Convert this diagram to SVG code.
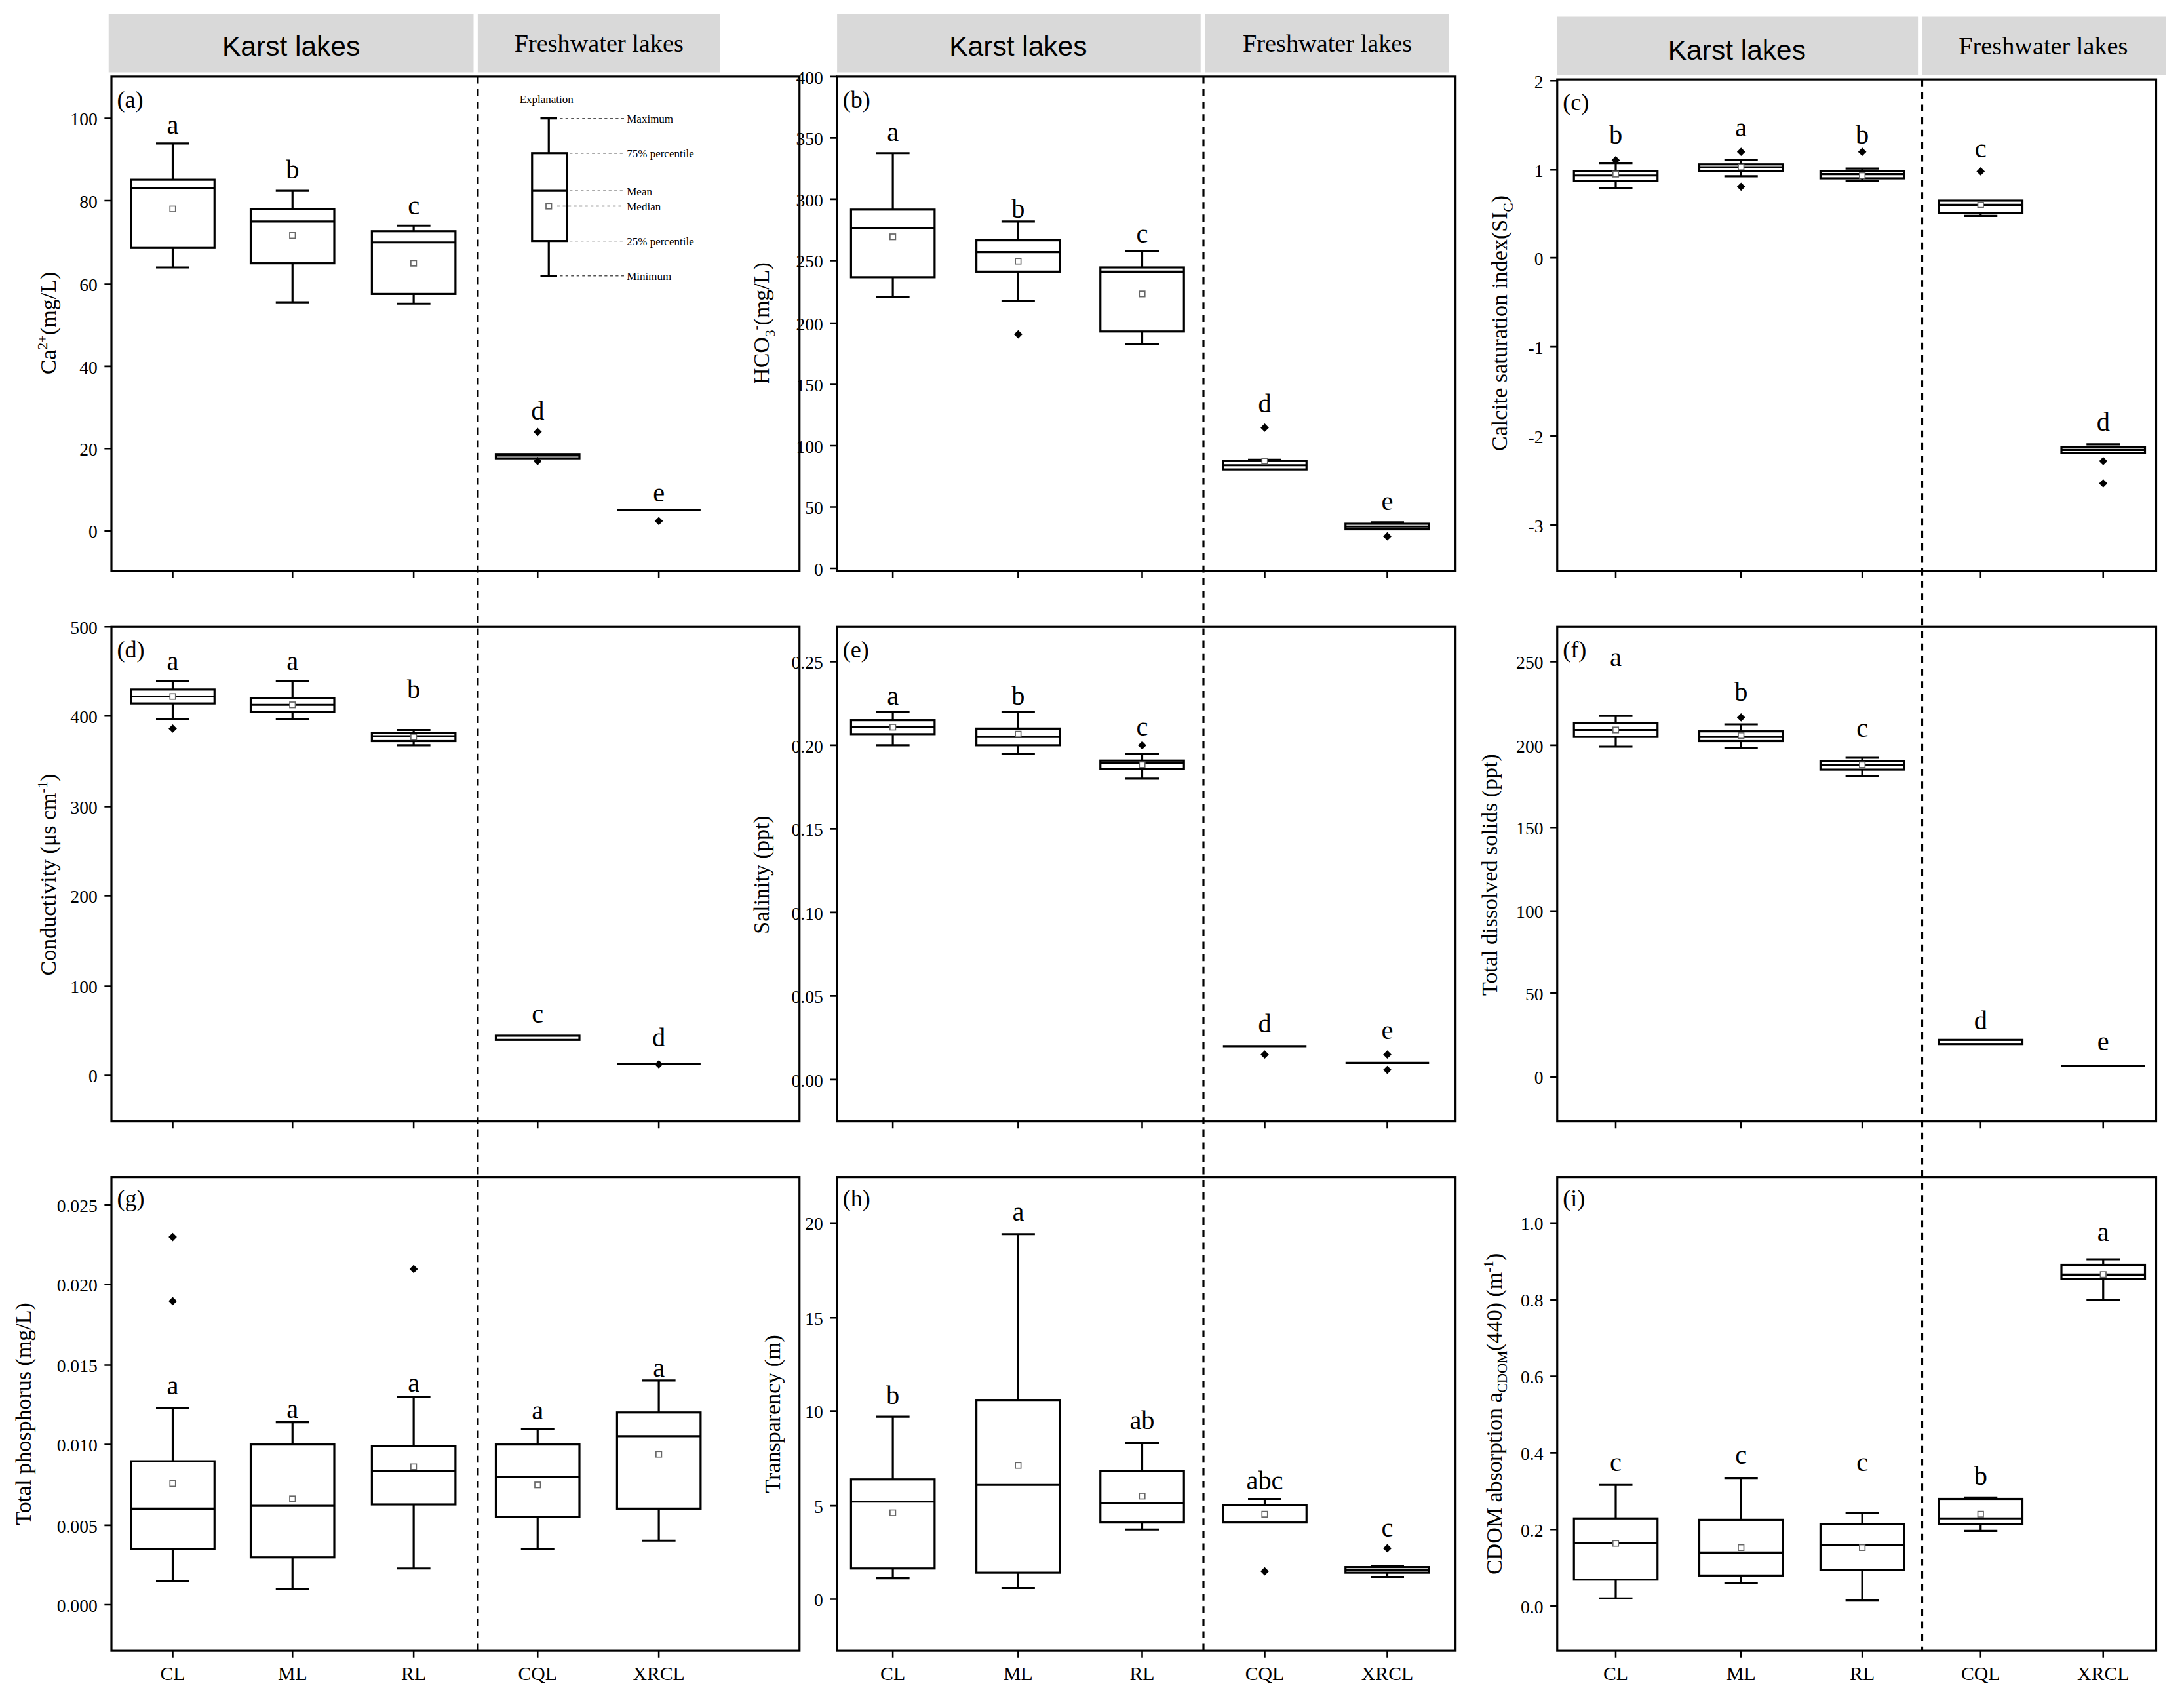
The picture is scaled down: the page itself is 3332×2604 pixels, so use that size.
<svg xmlns="http://www.w3.org/2000/svg" width="3332" height="2604" viewBox="0 0 3332 2604">
<style>
.ax{fill:none;stroke:#000;stroke-width:1.5}
.b{fill:none;stroke:#000;stroke-width:1.5}
.m{fill:#fff;stroke:#666;stroke-width:0.8}
.hd{fill:#d9d9d9}
.ht{font-family:"Liberation Sans",Arial,sans-serif;font-size:20px;text-anchor:middle}
.ht2{font-family:"Liberation Serif",serif;font-size:18px;text-anchor:middle}
.t{font-family:"Liberation Serif",serif;font-size:13px;text-anchor:end}
.xl{font-family:"Liberation Serif",serif;font-size:14px;text-anchor:middle}
.lt{font-family:"Liberation Serif",serif;font-size:19px;text-anchor:middle}
.pl{font-family:"Liberation Serif",serif;font-size:17px}
.yl{font-family:"Liberation Serif",serif;font-size:16px;text-anchor:middle}
.ex{font-family:"Liberation Serif",serif;font-size:8px}
.dl{stroke:#000;stroke-width:1.5;stroke-dasharray:5,4}
.dot{stroke:#555;stroke-width:0.6;stroke-dasharray:2,2}
</style>
<defs><path id="o" d="M0,-3L3,0 0,3 -3,0Z" fill="#000"/></defs>
<rect width="3332" height="2604" fill="#fff"/>
<g transform="scale(2.125)">
<g id="headers">
<rect class="hd" x="78" y="10" width="262" height="42"/><text class="ht" x="209" y="40">Karst lakes</text>
<rect class="hd" x="343" y="10" width="174" height="42"/><text class="ht2" x="430" y="37">Freshwater lakes</text>
<rect class="hd" x="601" y="10" width="261" height="42"/><text class="ht" x="731" y="40">Karst lakes</text>
<rect class="hd" x="865" y="10" width="175" height="42"/><text class="ht2" x="953" y="37">Freshwater lakes</text>
<rect class="hd" x="1118" y="12" width="259" height="42"/><text class="ht" x="1247" y="43">Karst lakes</text>
<rect class="hd" x="1380" y="12" width="175" height="42"/><text class="ht2" x="1467" y="39">Freshwater lakes</text>
</g>
<g id="axes">
<rect class="ax" x="80" y="55" width="494" height="355"/>
<rect class="ax" x="601" y="55" width="444" height="355"/>
<rect class="ax" x="1118" y="57" width="430" height="353"/>
<rect class="ax" x="80" y="450" width="494" height="355"/>
<rect class="ax" x="601" y="450" width="444" height="355"/>
<rect class="ax" x="1118" y="450" width="430" height="355"/>
<rect class="ax" x="80" y="845" width="494" height="340"/>
<rect class="ax" x="601" y="845" width="444" height="340"/>
<rect class="ax" x="1118" y="845" width="430" height="340"/>
<text class="pl" x="84" y="77">(a)</text><text class="pl" x="605" y="77">(b)</text><text class="pl" x="1122" y="79">(c)</text>
<text class="pl" x="84" y="472">(d)</text><text class="pl" x="605" y="472">(e)</text><text class="pl" x="1122" y="472">(f)</text>
<text class="pl" x="84" y="866">(g)</text><text class="pl" x="605" y="866">(h)</text><text class="pl" x="1122" y="866">(i)</text>
<!-- y ticks -->
<g stroke="#000" stroke-width="1.2">
<path d="M80,381h-5M80,322h-5M80,263h-5M80,204h-5M80,144h-5M80,85h-5"/>
<path d="M601,408h-5M601,364h-5M601,320h-5M601,276h-5M601,232h-5M601,187h-5M601,143h-5M601,99h-5M601,55h-5"/>
<path d="M1118,58h-5M1118,122h-5M1118,185h-5M1118,249h-5M1118,313h-5M1118,377h-5"/>
<path d="M80,772h-5M80,708h-5M80,643h-5M80,579h-5M80,514h-5M80,450h-5"/>
<path d="M601,775h-5M601,715h-5M601,655h-5M601,595h-5M601,535h-5M601,475h-5"/>
<path d="M1118,773h-5M1118,713h-5M1118,654h-5M1118,594h-5M1118,535h-5M1118,475h-5"/>
<path d="M80,1152h-5M80,1095h-5M80,1037h-5M80,980h-5M80,922h-5M80,865h-5"/>
<path d="M601,1148h-5M601,1081h-5M601,1013h-5M601,946h-5M601,878h-5"/>
<path d="M1118,1153h-5M1118,1098h-5M1118,1043h-5M1118,988h-5M1118,933h-5M1118,878h-5"/>
<path d="M124,410v5M210,410v5M297,410v5M386,410v5M473,410v5M641,410v5M731,410v5M820,410v5M908,410v5M996,410v5M1160,410v5M1250,410v5M1337,410v5M1422,410v5M1510,410v5"/>
<path d="M124,805v5M210,805v5M297,805v5M386,805v5M473,805v5M641,805v5M731,805v5M820,805v5M908,805v5M996,805v5M1160,805v5M1250,805v5M1337,805v5M1422,805v5M1510,805v5"/>
<path d="M124,1185v5M210,1185v5M297,1185v5M386,1185v5M473,1185v5M641,1185v5M731,1185v5M820,1185v5M908,1185v5M996,1185v5M1160,1185v5M1250,1185v5M1337,1185v5M1422,1185v5M1510,1185v5"/>
</g>
<g class="t">
<text x="70" y="386">0</text><text x="70" y="327">20</text><text x="70" y="268">40</text><text x="70" y="209">60</text><text x="70" y="149">80</text><text x="70" y="90">100</text>
<text x="591" y="413">0</text><text x="591" y="369">50</text><text x="591" y="325">100</text><text x="591" y="281">150</text><text x="591" y="237">200</text><text x="591" y="192">250</text><text x="591" y="148">300</text><text x="591" y="104">350</text><text x="591" y="60">400</text>
<text x="1108" y="63">2</text><text x="1108" y="127">1</text><text x="1108" y="190">0</text><text x="1108" y="254">-1</text><text x="1108" y="318">-2</text><text x="1108" y="382">-3</text>
<text x="70" y="777">0</text><text x="70" y="713">100</text><text x="70" y="648">200</text><text x="70" y="584">300</text><text x="70" y="519">400</text><text x="70" y="455">500</text>
<text x="591" y="780">0.00</text><text x="591" y="720">0.05</text><text x="591" y="660">0.10</text><text x="591" y="600">0.15</text><text x="591" y="540">0.20</text><text x="591" y="480">0.25</text>
<text x="1108" y="778">0</text><text x="1108" y="718">50</text><text x="1108" y="659">100</text><text x="1108" y="599">150</text><text x="1108" y="540">200</text><text x="1108" y="480">250</text>
<text x="70" y="1157">0.000</text><text x="70" y="1100">0.005</text><text x="70" y="1042">0.010</text><text x="70" y="985">0.015</text><text x="70" y="927">0.020</text><text x="70" y="870">0.025</text>
<text x="591" y="1153">0</text><text x="591" y="1086">5</text><text x="591" y="1018">10</text><text x="591" y="951">15</text><text x="591" y="883">20</text>
<text x="1108" y="1158">0.0</text><text x="1108" y="1103">0.2</text><text x="1108" y="1048">0.4</text><text x="1108" y="993">0.6</text><text x="1108" y="938">0.8</text><text x="1108" y="883">1.0</text>
</g>
<g class="xl">
<text x="124" y="1206">CL</text><text x="210" y="1206">ML</text><text x="297" y="1206">RL</text><text x="386" y="1206">CQL</text><text x="473" y="1206">XRCL</text>
<text x="641" y="1206">CL</text><text x="731" y="1206">ML</text><text x="820" y="1206">RL</text><text x="908" y="1206">CQL</text><text x="996" y="1206">XRCL</text>
<text x="1160" y="1206">CL</text><text x="1250" y="1206">ML</text><text x="1337" y="1206">RL</text><text x="1422" y="1206">CQL</text><text x="1510" y="1206">XRCL</text>
</g>
<g class="yl">
<text transform="translate(40,232) rotate(-90)">Ca<tspan font-size="10" dy="-6">2+</tspan><tspan dy="6">(mg/L)</tspan></text>
<text transform="translate(552,232) rotate(-90)">HCO<tspan font-size="10" dy="4">3</tspan><tspan font-size="10" dy="-10">-</tspan><tspan dy="6">(mg/L)</tspan></text>
<text transform="translate(1082,232) rotate(-90)">Calcite saturation index(SI<tspan font-size="10" dy="4">C</tspan><tspan dy="-4">)</tspan></text>
<text transform="translate(40,628) rotate(-90)">Conductivity (μs cm<tspan font-size="10" dy="-6">-1</tspan><tspan dy="6">)</tspan></text>
<text transform="translate(552,628) rotate(-90)">Salinity (ppt)</text>
<text transform="translate(1075,628) rotate(-90)">Total dissolved solids (ppt)</text>
<text transform="translate(22,1015) rotate(-90)">Total phosphorus (mg/L)</text>
<text transform="translate(560,1015) rotate(-90)">Transparency (m)</text>
<text transform="translate(1078,1015) rotate(-90)">CDOM absorption a<tspan font-size="10" dy="4">CDOM</tspan><tspan dy="-4">(440) (m</tspan><tspan font-size="10" dy="-6">-1</tspan><tspan dy="6">)</tspan></text>
</g>
</g>
<g id="connectors">
<line class="dl" x1="343" y1="55" x2="343" y2="1185"/>
<line class="dl" x1="864" y1="55" x2="864" y2="1185"/>
<line class="dl" x1="1380" y1="57" x2="1380" y2="1185"/>
</g>
<g id="legend">
<text class="ex" x="373" y="74">Explanation</text>
<path class="b" d="M394,85v25M394,173v25M388,85h12M388,198h12M382,137h25"/>
<rect class="b" x="382" y="110" width="25" height="63"/>
<rect class="m" x="392" y="146" width="4" height="4"/>
<path class="dot" d="M402,85h46M409,110h38M409,137h38M400,148h47M409,173h38M402,198h46"/>
<g class="ex"><text x="450" y="88">Maximum</text><text x="450" y="113">75% percentile</text><text x="450" y="140">Mean</text><text x="450" y="151">Median</text><text x="450" y="176">25% percentile</text><text x="450" y="201">Minimum</text></g>
</g>
<g id="boxes" class="b">
<!-- a -->
<path d="M124,103v26M124,178v14M112,103h24M112,192h24M94,135h60"/><rect x="94" y="129" width="60" height="49"/>
<path d="M210,137v13M210,189v28M198,137h24M198,217h24M180,159h60"/><rect x="180" y="150" width="60" height="39"/>
<path d="M297,162v4M297,211v7M285,162h24M285,218h24M267,174h60"/><rect x="267" y="166" width="60" height="45"/>
<rect x="356" y="326" width="60" height="3"/><path d="M356,327h60"/>
<path d="M443,366h60"/>
<!-- b -->
<path d="M641,110v40.5M641,199v14M629,110h24M629,213h24M611,164h60"/><rect x="611" y="150.5" width="60" height="48.5"/>
<path d="M731,159v13.5M731,195v21M719,159h24M719,216h24M701,181h60"/><rect x="701" y="172.5" width="60" height="22.5"/>
<path d="M820,180v12M820,238v9M808,180h24M808,247h24M790,195h60"/><rect x="790" y="192" width="60" height="46"/>
<path d="M908,330v1M896,330h24M878,334h60"/><rect x="878" y="331" width="60" height="6"/>
<path d="M984,375h24M966,378h60"/><rect x="966" y="376" width="60" height="4"/>
<!-- c -->
<path d="M1160,117v6M1160,130v5M1148,117h24M1148,135h24M1130,126h60"/><rect x="1130" y="123" width="60" height="7"/>
<path d="M1250,115v3M1250,123v3.5M1238,115h24M1238,126.5h24M1220,120h60"/><rect x="1220" y="118" width="60" height="5"/>
<path d="M1337,121v2M1337,128v2M1325,121h24M1325,130h24M1307,125h60"/><rect x="1307" y="123" width="60" height="5"/>
<path d="M1422,153v2M1410,155h24M1392,147h60"/><rect x="1392" y="144" width="60" height="9"/>
<path d="M1498,319h24M1480,323h60"/><rect x="1480" y="321" width="60" height="4"/>
<!-- d -->
<path d="M124,489v6M124,505v11M112,489h24M112,516h24M94,500h60"/><rect x="94" y="495" width="60" height="10"/>
<path d="M210,489v12M210,511v5M198,489h24M198,516h24M180,506h60"/><rect x="180" y="501" width="60" height="10"/>
<path d="M297,524v2M297,532v3M285,524h24M285,535h24M267,528.5h60"/><rect x="267" y="526" width="60" height="6"/>
<rect x="356" y="743.5" width="60" height="3"/>
<path d="M443,764h60"/>
<!-- e -->
<path d="M641,511v6M641,527v8M629,511h24M629,535h24M611,522h60"/><rect x="611" y="517" width="60" height="10"/>
<path d="M731,511v12M731,535v6M719,511h24M719,541h24M701,529h60"/><rect x="701" y="523" width="60" height="12"/>
<path d="M820,541v5M820,552v7M808,541h24M808,559h24M790,548h60"/><rect x="790" y="546" width="60" height="6"/>
<path d="M878,751h60M966,763h60"/>
<!-- f -->
<path d="M1160,514v5M1160,529v7M1148,514h24M1148,536h24M1130,524h60"/><rect x="1130" y="519" width="60" height="10"/>
<path d="M1250,520v5M1250,532v5M1238,520h24M1238,537h24M1220,529h60"/><rect x="1220" y="525" width="60" height="7"/>
<path d="M1337,544v2.5M1337,552.5v4.5M1325,544h24M1325,557h24M1307,549h60"/><rect x="1307" y="546.5" width="60" height="6"/>
<rect x="1392" y="746.5" width="60" height="3"/>
<path d="M1480,765h60"/>
<!-- g -->
<path d="M124,1011v38M124,1112v23M112,1011h24M112,1135h24M94,1083h60"/><rect x="94" y="1049" width="60" height="63"/>
<path d="M210,1021v16M210,1118v22.5M198,1021h24M198,1140.5h24M180,1081h60"/><rect x="180" y="1037" width="60" height="81"/>
<path d="M297,1003v35M297,1080v46M285,1003h24M285,1126h24M267,1056h60"/><rect x="267" y="1038" width="60" height="42"/>
<path d="M386,1026v11M386,1089v23M374,1026h24M374,1112h24M356,1060h60"/><rect x="356" y="1037" width="60" height="52"/>
<path d="M473,991v23M473,1083v23M461,991h24M461,1106h24M443,1031h60"/><rect x="443" y="1014" width="60" height="69"/>
<!-- h -->
<path d="M641,1017v45M641,1126v7M629,1017h24M629,1133h24M611,1078h60"/><rect x="611" y="1062" width="60" height="64"/>
<path d="M731,886v119M731,1129v11M719,886h24M719,1140h24M701,1066h60"/><rect x="701" y="1005" width="60" height="124"/>
<path d="M820,1036v20M820,1093v5M808,1036h24M808,1098h24M790,1079h60"/><rect x="790" y="1056" width="60" height="37"/>
<path d="M908,1076v4.5M896,1076h24"/><rect x="878" y="1080.5" width="60" height="12.5"/>
<path d="M996,1124v1M996,1129v3M984,1124h24M984,1132h24M966,1127h60"/><rect x="966" y="1125" width="60" height="4"/>
<!-- i -->
<path d="M1160,1066v24M1160,1134v13.5M1148,1066h24M1148,1147.5h24M1130,1108h60"/><rect x="1130" y="1090" width="60" height="44"/>
<path d="M1250,1061v30M1250,1131v5.5M1238,1061h24M1238,1136.5h24M1220,1114.5h60"/><rect x="1220" y="1091" width="60" height="40"/>
<path d="M1337,1086v8M1337,1127v22M1325,1086h24M1325,1149h24M1307,1109h60"/><rect x="1307" y="1094" width="60" height="33"/>
<path d="M1422,1075v1M1422,1094v5M1410,1075h24M1410,1099h24M1392,1090h60"/><rect x="1392" y="1076" width="60" height="18"/>
<path d="M1510,904v4M1510,918v15M1498,904h24M1498,933h24M1480,915h60"/><rect x="1480" y="908" width="60" height="10"/>
</g>
<g id="means" class="m">
<rect x="122" y="148" width="4" height="4"/><rect x="208" y="167" width="4" height="4"/><rect x="295" y="187" width="4" height="4"/>
<rect x="639" y="168" width="4" height="4"/><rect x="729" y="185.5" width="4" height="4"/><rect x="818" y="209" width="4" height="4"/><rect x="906" y="329" width="4" height="4"/>
<rect x="1158" y="123" width="4" height="4"/><rect x="1248" y="118" width="4" height="4"/><rect x="1335" y="124" width="4" height="4"/><rect x="1420" y="145" width="4" height="4"/>
<rect x="122" y="498" width="4" height="4"/><rect x="208" y="504" width="4" height="4"/><rect x="295" y="527" width="4" height="4"/>
<rect x="639" y="520" width="4" height="4"/><rect x="729" y="525" width="4" height="4"/><rect x="818" y="547" width="4" height="4"/>
<rect x="1158" y="522" width="4" height="4"/><rect x="1248" y="526" width="4" height="4"/><rect x="1335" y="547" width="4" height="4"/>
<rect x="122" y="1063" width="4" height="4"/><rect x="208" y="1074" width="4" height="4"/><rect x="295" y="1051" width="4" height="4"/><rect x="384" y="1064" width="4" height="4"/><rect x="471" y="1042" width="4" height="4"/>
<rect x="639" y="1084" width="4" height="4"/><rect x="729" y="1050" width="4" height="4"/><rect x="818" y="1072" width="4" height="4"/><rect x="906" y="1085" width="4" height="4"/>
<rect x="1158" y="1106" width="4" height="4"/><rect x="1248" y="1109" width="4" height="4"/><rect x="1335" y="1109" width="4" height="4"/><rect x="1420" y="1085" width="4" height="4"/><rect x="1508" y="913" width="4" height="4"/>
</g>
<g id="outliers">
<use href="#o" x="386" y="310"/><use href="#o" x="386" y="331"/><use href="#o" x="473" y="374"/>
<use href="#o" x="731" y="240"/><use href="#o" x="908" y="307"/><use href="#o" x="996" y="385"/>
<use href="#o" x="1160" y="115"/><use href="#o" x="1250" y="109"/><use href="#o" x="1250" y="134"/><use href="#o" x="1337" y="109"/><use href="#o" x="1422" y="123"/><use href="#o" x="1510" y="331"/><use href="#o" x="1510" y="347"/>
<use href="#o" x="124" y="523"/><use href="#o" x="473" y="764"/>
<use href="#o" x="820" y="535"/><use href="#o" x="908" y="757"/><use href="#o" x="996" y="757"/><use href="#o" x="996" y="768"/>
<use href="#o" x="1250" y="515"/>
<use href="#o" x="124" y="888"/><use href="#o" x="124" y="934"/><use href="#o" x="297" y="911"/>
<use href="#o" x="908" y="1128"/><use href="#o" x="996" y="1111.5"/>
</g>
<g id="letters" class="lt">
<text x="124" y="96">a</text><text x="210" y="128">b</text><text x="297" y="154">c</text><text x="386" y="301">d</text><text x="473" y="360">e</text>
<text x="641" y="101">a</text><text x="731" y="156">b</text><text x="820" y="174">c</text><text x="908" y="296">d</text><text x="996" y="366">e</text>
<text x="1160" y="103">b</text><text x="1250" y="98">a</text><text x="1337" y="103">b</text><text x="1422" y="113">c</text><text x="1510" y="309">d</text>
<text x="124" y="481">a</text><text x="210" y="481">a</text><text x="297" y="501">b</text><text x="386" y="734">c</text><text x="473" y="751">d</text>
<text x="641" y="506">a</text><text x="731" y="506">b</text><text x="820" y="528">c</text><text x="908" y="741">d</text><text x="996" y="746">e</text>
<text x="1160" y="478">a</text><text x="1250" y="503">b</text><text x="1337" y="529">c</text><text x="1422" y="739">d</text><text x="1510" y="754">e</text>
<text x="124" y="1001">a</text><text x="210" y="1018">a</text><text x="297" y="999">a</text><text x="386" y="1019">a</text><text x="473" y="988">a</text>
<text x="641" y="1008">b</text><text x="731" y="876">a</text><text x="820" y="1026">ab</text><text x="908" y="1069">abc</text><text x="996" y="1103">c</text>
<text x="1160" y="1056">c</text><text x="1250" y="1051">c</text><text x="1337" y="1056">c</text><text x="1422" y="1066">b</text><text x="1510" y="891">a</text>
</g>
</g>
</svg>
